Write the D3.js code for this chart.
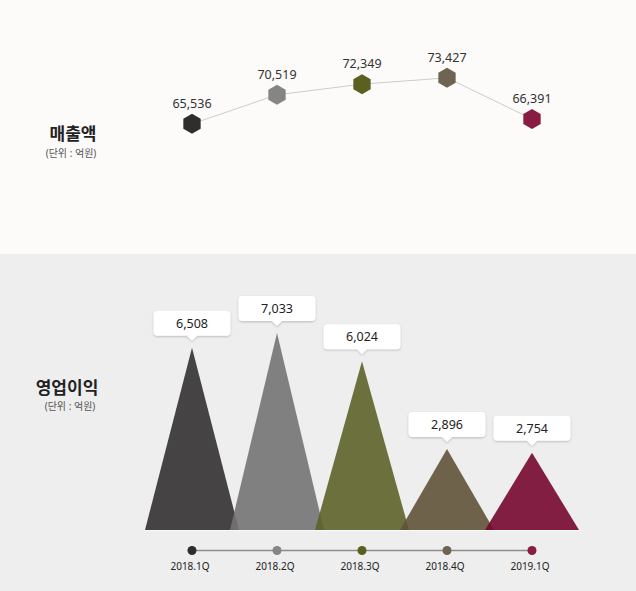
<!DOCTYPE html>
<html><head><meta charset="utf-8">
<script src="https://cdn.jsdelivr.net/npm/d3@7"></script>
<style>
html,body{margin:0;padding:0;background:#eeeeee;}
svg{display:block;font-family:"Noto Sans","Noto Sans CJK KR",sans-serif;}
</style></head>
<body>
<svg id="c" width="636" height="591"></svg>
<script>
const quarters = ["2018.1Q","2018.2Q","2018.3Q","2018.4Q","2019.1Q"];
const sales = [65536, 70519, 72349, 73427, 66391];
const profit = [6508, 7033, 6024, 2896, 2754];
const markerColors = ["#2e2e2e","#858585","#5b5f1f","#6f6451","#891c42"];
const triColors = ["#323031","#737373","#5c6228","#5f5239","#76072d"];
const salesTitle = "매출액", profitTitle = "영업이익", unitText = "(단위 : 억원)";

const svg = d3.select("#c");
const fmt = d3.format(",");

// backgrounds
svg.append("rect").attr("x",0).attr("y",0).attr("width",636).attr("height",254).attr("fill","#fcfbfa");
svg.append("rect").attr("x",0).attr("y",254).attr("width",636).attr("height",337).attr("fill","#eeeeee");

const x = d3.scalePoint().domain(quarters).range([192, 532]);

// ---- top: sales line
const ySales = d3.scaleLinear().domain([65000, 74000]).range([127, 74.5]);
svg.append("text").attr("x",73).attr("y",140).attr("text-anchor","middle")
  .attr("font-size",17).attr("font-weight","bold").attr("fill","#222").text(salesTitle);
svg.append("text").attr("x",71).attr("y",157).attr("text-anchor","middle")
  .attr("font-size",10).attr("fill","#555").text(unitText);

const line = d3.line().x((d,i)=>x(quarters[i])).y(d=>ySales(d));
svg.append("path").datum(sales).attr("d",line).attr("fill","none")
  .attr("stroke","#cfcccb").attr("stroke-width",1);

const hex = r => {
  const pts = d3.range(6).map(k=>{const a=(-90+60*k)*Math.PI/180;return [r*Math.cos(a), r*Math.sin(a)];});
  return "M"+pts.map(p=>p.join(",")).join("L")+"Z";
};
const g1 = svg.append("g");
g1.selectAll("path.hex").data(sales).join("path").attr("class","hex")
  .attr("transform",(d,i)=>`translate(${x(quarters[i])},${ySales(d)})`)
  .attr("d",hex(10)).attr("fill",(d,i)=>markerColors[i]);
g1.selectAll("text.v").data(sales).join("text").attr("class","v")
  .attr("x",(d,i)=>x(quarters[i])).attr("y",d=>ySales(d)-16)
  .attr("text-anchor","middle").attr("font-size",12.5).attr("fill","#333").text(d=>fmt(d));

// ---- bottom: profit triangles
svg.append("text").attr("x",67).attr("y",394).attr("text-anchor","middle")
  .attr("font-size",17).attr("font-weight","bold").attr("fill","#222").text(profitTitle);
svg.append("text").attr("x",70).attr("y",410).attr("text-anchor","middle")
  .attr("font-size",10).attr("fill","#555").text(unitText);

const base = 530;
const yP = d3.scaleLinear().domain([0, 7033]).range([base, 333]);
const hw = 47;

const defs = svg.append("defs");
const f = defs.append("filter").attr("id","sh").attr("x","-20%").attr("y","-30%").attr("width","140%").attr("height","170%");
f.append("feDropShadow").attr("dx",0).attr("dy",1).attr("stdDeviation",1.2).attr("flood-color","#000").attr("flood-opacity",0.22);

svg.append("line").attr("x1",146).attr("x2",580).attr("y1",base+0.5).attr("y2",base+0.5)
  .attr("stroke","#ffffff").attr("stroke-width",1).attr("opacity",0.7);

const g2 = svg.append("g");
g2.selectAll("path.tri").data(profit).join("path").attr("class","tri")
  .attr("d",(d,i)=>{const cx=x(quarters[i]);return `M${cx-hw},${base}L${cx},${yP(d)}L${cx+hw},${base}Z`;})
  .attr("fill",(d,i)=>triColors[i]).attr("fill-opacity",0.9);

// callouts
const bw = 77, bh = 25;
const cg = g2.selectAll("g.call").data(profit).join("g").attr("class","call")
  .attr("transform",(d,i)=>`translate(${x(quarters[i])},${yP(d)})`);
cg.append("path").attr("filter","url(#sh)")
  .attr("d",()=>{
    const b=-12, t=b-bh, l=-bw/2, r=bw/2, rr=4;
    return `M${l+rr},${t}H${r-rr}Q${r},${t} ${r},${t+rr}V${b-rr}Q${r},${b} ${r-rr},${b}H5L0,${b+5}L-5,${b}H${l+rr}Q${l},${b} ${l},${b-rr}V${t+rr}Q${l},${t} ${l+rr},${t}Z`;
  }).attr("fill","#ffffff");
cg.append("text").attr("y",-12-bh/2+4.5).attr("text-anchor","middle")
  .attr("font-size",12.5).attr("fill","#222").text(d=>fmt(d));

// timeline
const ty = 550.5;
svg.append("line").attr("x1",x(quarters[0])).attr("x2",x(quarters[quarters.length-1]))
  .attr("y1",ty).attr("y2",ty).attr("stroke","#8e8e8e").attr("stroke-width",1.3);
svg.selectAll("circle.t").data(quarters).join("circle").attr("class","t")
  .attr("cx",d=>x(d)).attr("cy",ty).attr("r",4.5).attr("fill",(d,i)=>markerColors[i]);
svg.selectAll("text.q").data(quarters).join("text").attr("class","q")
  .attr("x",d=>x(d)-2).attr("y",570).attr("text-anchor","middle")
  .attr("font-size",10).attr("fill","#222").text(d=>d);
</script>
</body></html>
